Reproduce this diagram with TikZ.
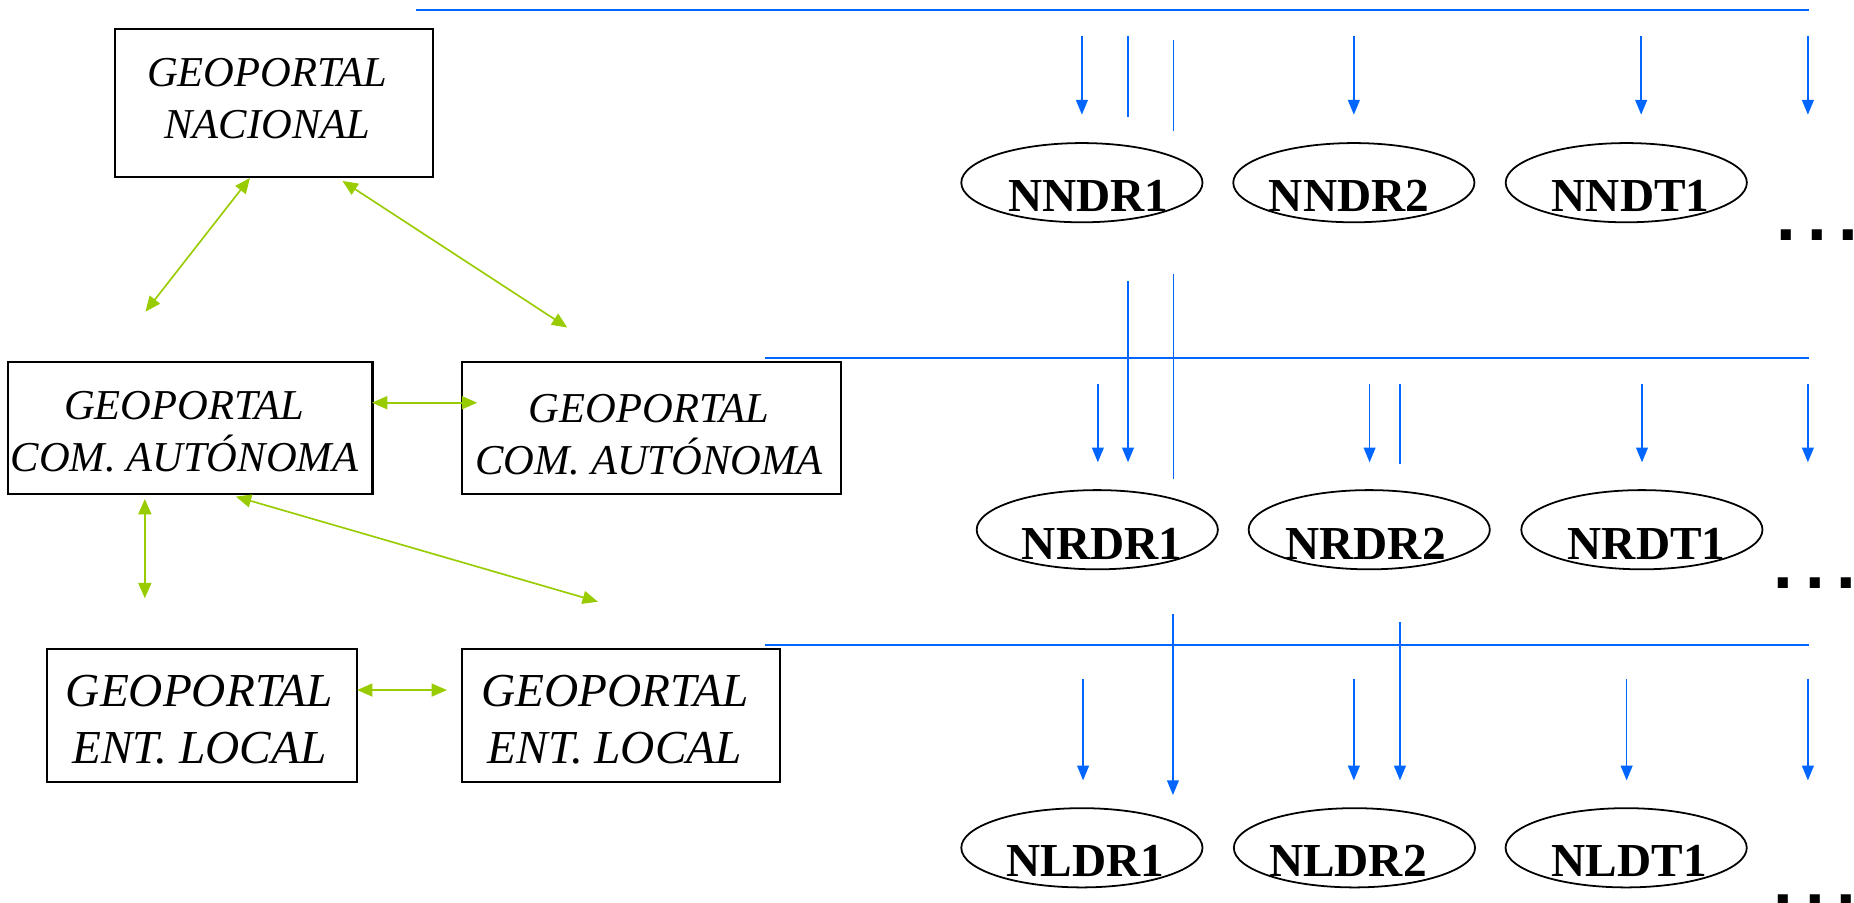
\documentclass[tikz,border=0pt]{standalone}
\usepackage{fontspec}
\setmainfont{Liberation Serif}
\newfontfamily\dotfont{DejaVu Sans}
\usetikzlibrary{arrows.meta,shapes.geometric}
\definecolor{gpgreen}{HTML}{99CC00}
\definecolor{gpblue}{HTML}{0066FF}
\begin{document}
\begin{tikzpicture}[x=1pt,y=-1pt,
  box/.style={draw=black,line width=1.8pt,inner sep=0pt},
  ptext/.style={inner sep=0pt,align=center,font=\fontsize{36}{44}\selectfont\itshape},
  ptextL/.style={inner sep=0pt,align=center,font=\fontsize{40}{48.3}\selectfont\itshape},
  oval/.style={draw=black,ellipse,line width=1.5pt,minimum width=204pt,minimum height=67pt,inner sep=0pt},
  otext/.style={inner sep=0pt,anchor=base,font=\fontsize{40}{48}\selectfont\bfseries},
  bus/.style={draw=gpblue,line width=1.8pt},
  feed/.style={draw=gpblue,line width=1.3pt},
  feedarr/.style={feed,-{Triangle[length=12.5pt,width=10pt]}},
  link/.style={draw=gpgreen,line width=1.4pt,{Triangle[length=13pt,width=11pt]}-{Triangle[length=13pt,width=11pt]}},
  dots/.style={inner sep=0pt,anchor=base west,font=\dotfont\bfseries\fontsize{48}{48}\selectfont}
]
\useasboundingbox (0,0) rectangle (1568,763);

% portal boxes
\node[box,minimum width=269pt,minimum height=124.6pt] (nac) at (231.5,87.1) {};
\node[box,minimum width=308pt,minimum height=112pt] (caL) at (161,362) {};
\node[box,minimum width=320pt,minimum height=112pt] (caR) at (551,362) {};
\node[box,minimum width=262.6pt,minimum height=112pt] (elL) at (170.7,605) {};
\node[box,minimum width=268.7pt,minimum height=112pt] (elR) at (525.4,605) {};

\node[ptext] (tnac) at (226,83.5) {GEOPORTAL\\NACIONAL};
\node[ptext] (tcaL) at (156,365) {GEOPORTAL\\COM. AUTÓNOMA};
\node[ptext] (tcaR) at (549,368) {GEOPORTAL\\COM. AUTÓNOMA};
\node[ptextL] (telL) at (168.7,608.5) {GEOPORTAL\\ENT. LOCAL};
\node[ptextL] (telR) at (520,608.5) {GEOPORTAL\\ENT. LOCAL};

% green links
\coordinate (g1a) at (211.4,150.5); \coordinate (g1b) at (123,263.6);
\coordinate (g2a) at (289.6,153);   \coordinate (g2b) at (479.8,277);
\coordinate (g3a) at (314.6,340.6); \coordinate (g3b) at (403.6,340.6);
\coordinate (g4a) at (122.5,422);   \coordinate (g4b) at (122.5,506);
\coordinate (g5a) at (199.5,420);   \coordinate (g5b) at (505.7,508.9);
\coordinate (g6a) at (302,583.6);   \coordinate (g6b) at (378,583.6);
\draw[link] (g1a) -- (g1b);
\draw[link] (g2a) -- (g2b);
\draw[link] (g3a) -- (g3b);
\draw[link] (g4a) -- (g4b);
\draw[link] (g5a) -- (g5b);
\draw[link] (g6a) -- (g6b);

% blue buses
\coordinate (b1a) at (352,8.5);   \coordinate (b1b) at (1530,8.5);
\coordinate (b2a) at (647,302.5); \coordinate (b2b) at (1530,302.5);
\coordinate (b3a) at (647,545.5); \coordinate (b3b) at (1530,545.5);
\draw[bus] (b1a) -- (b1b);
\draw[bus] (b2a) -- (b2b);
\draw[bus] (b3a) -- (b3b);

% blue arrows
\foreach \n/\x/\ya/\yb in {1/915/30.5/97, 2/1145/30.5/97, 3/1388/30.5/97, 4/1529/30.5/97,
  5/954/238/391, 6/928.5/325/391, 7/1158.3/325/391, 8/1388.7/325/391, 9/1529/325/391,
  10/992/519.5/672.4, 11/1184/526/660, 12/916/574/660, 13/1145/574/660, 14/1375.7/574/660, 15/1529/574/660}{
  \coordinate (fa\n) at (\x,\ya); \coordinate (fb\n) at (\x,\yb);
  \draw[feedarr] (fa\n) -- (fb\n);
}
% blue plain lines
\foreach \n/\x/\ya/\yb in {1/954/30.5/98.7, 2/992.5/34/111, 3/992.5/232/405, 4/1184/325/392}{
  \coordinate (la\n) at (\x,\ya); \coordinate (lb\n) at (\x,\yb);
  \draw[feed] (la\n) -- (lb\n);
}

% ellipses
\node[oval] (nndr1) at (915,154.5) {};
\node[oval] (nndr2) at (1145,154.5) {};
\node[oval] (nndt1) at (1375.4,154.5) {};
\node[oval] (nrdr1) at (928,448) {};
\node[oval] (nrdr2) at (1158,448) {};
\node[oval] (nrdt1) at (1388.6,448) {};
\node[oval] (nldr1) at (915,717) {};
\node[oval] (nldr2) at (1145.5,717) {};
\node[oval] (nldt1) at (1375.3,717) {};

\node[otext] (tnndr1) at (920.5,179) {NNDR1};
\node[otext] (tnndr2) at (1141,179) {NNDR2};
\node[otext] (tnndt1) at (1379,179) {NNDT1};
\node[otext] (tnrdr1) at (932,473) {NRDR1};
\node[otext] (tnrdr2) at (1155,473) {NRDR2};
\node[otext] (tnrdt1) at (1392.6,473) {NRDT1};
\node[otext] (tnldr1) at (918,741.4) {NLDR1};
\node[otext] (tnldr2) at (1140,741.4) {NLDR2};
\node[otext] (tnldt1) at (1378,741.4) {NLDT1};

% ellipsis dots
\node[dots] (d1) at (1501,203) {.\kern8.3pt.\kern8.3pt.};
\node[dots] (d2) at (1499,497.6) {.\kern8.3pt.\kern8.3pt.};
\node[dots] (d3) at (1499,765.5) {.\kern8.3pt.\kern8.3pt.};
\end{tikzpicture}
\end{document}
